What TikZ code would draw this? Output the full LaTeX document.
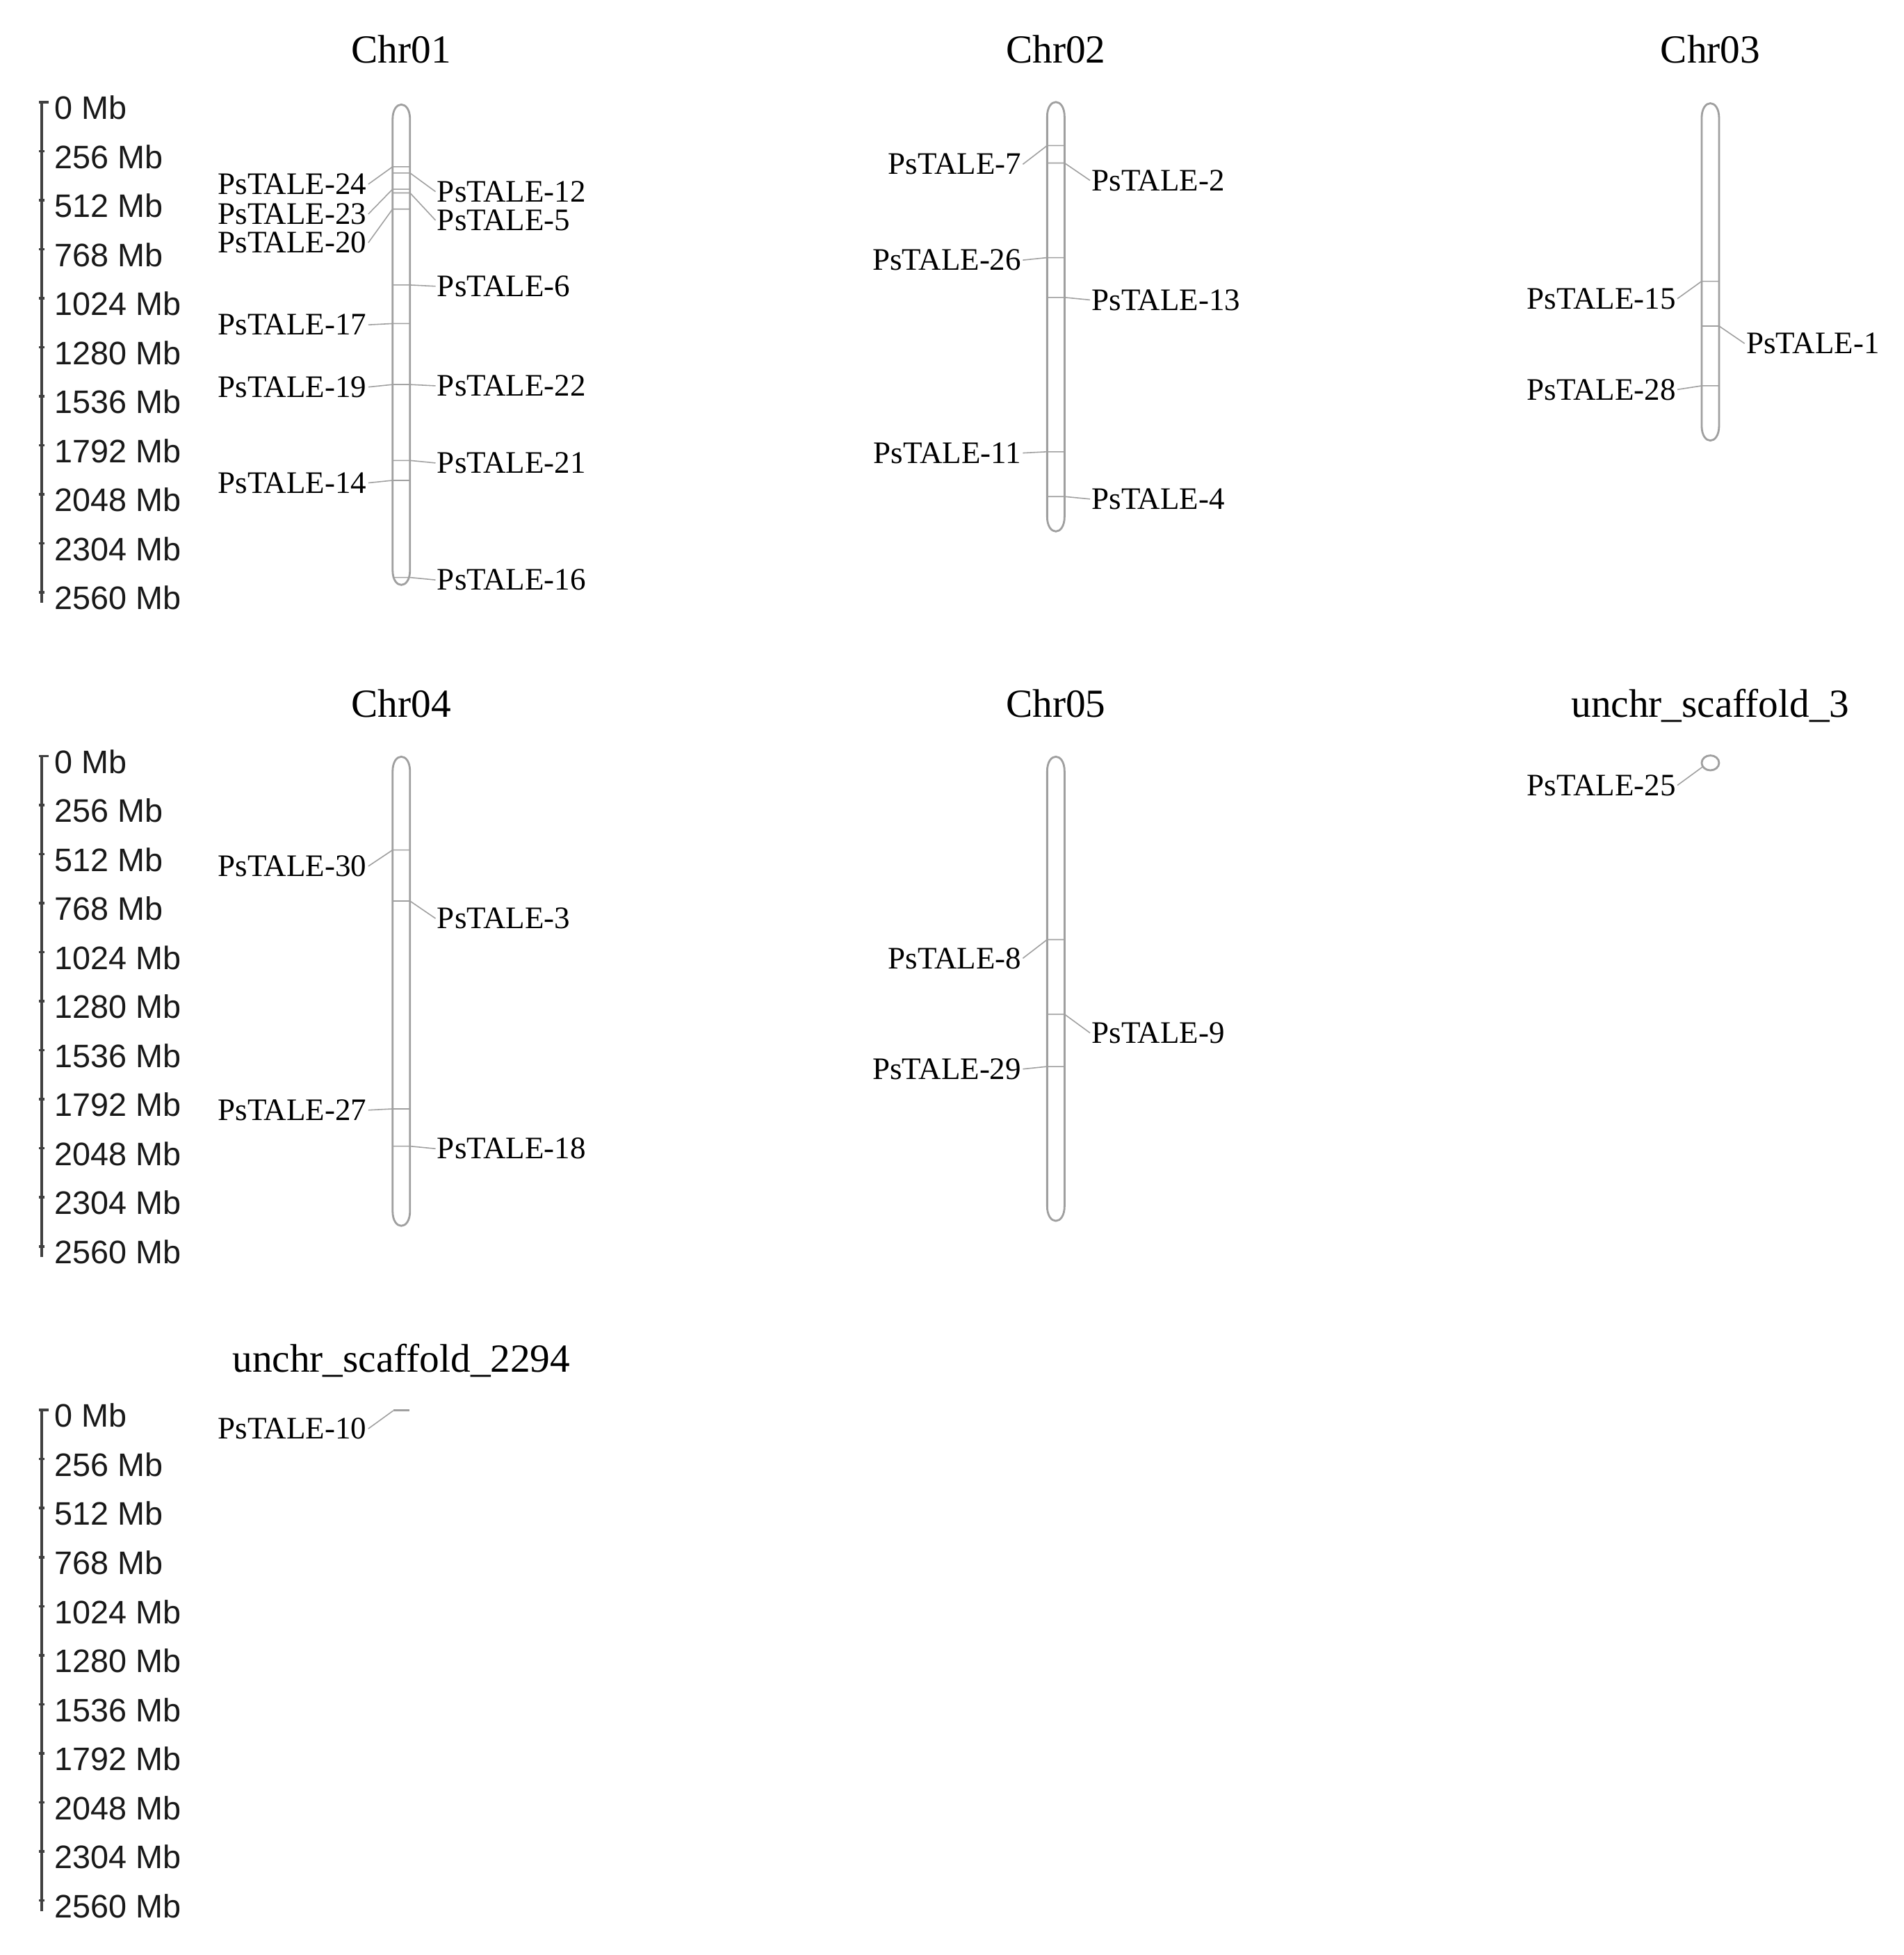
\documentclass[tikz,border=0pt]{standalone}
\usepackage{fontspec}
\setmainfont{Liberation Serif}
\newfontfamily\arialf{Liberation Sans}
\newcommand{\drawchrom}[3]{%
  \draw[chrom] ({#1-7},{#2+13}) .. controls ({#1-7},{#2-3}) and ({#1+7},{#2-3}) .. ({#1+7},{#2+13})
     -- ({#1+7},{#3-13}) .. controls ({#1+7},{#3+3}) and ({#1-7},{#3+3}) .. ({#1-7},{#3-13}) -- cycle;}
\newcommand{\lgene}[4]{%
  \node[lbl, anchor=east] (g#1) at ({#2-26.5},#3) {PsTALE-#1};
  \coordinate (g#1a) at ({#2-7},#4);
  \coordinate (g#1b) at ({#2+7},#4);
  \draw[conn] (g#1.east) -- (g#1a) -- (g#1b);}
\newcommand{\rgene}[4]{%
  \node[lbl, anchor=west] (g#1) at ({#2+27.5},#3) {PsTALE-#1};
  \coordinate (g#1a) at ({#2-7},#4);
  \coordinate (g#1b) at ({#2+7},#4);
  \draw[conn] (g#1a) -- (g#1b) -- (g#1.west);}
\begin{document}
\begin{tikzpicture}[x=0.0179cm, y=-0.0179cm,
  lbl/.style={font=\fontsize{12.8}{14}\selectfont, inner sep=0.5pt, text=black},
  ttl/.style={font=\fontsize{16.3}{18}\selectfont, inner sep=0pt, text=black},
  scl/.style={font=\arialf\fontsize{13.3}{15}\selectfont, inner sep=0pt, text=black!90},
  conn/.style={draw=gray!75, line width=0.45pt},
  chrom/.style={draw=gray!75, line width=0.8pt},
  sbar/.style={draw=black!75, line width=1pt}]
\useasboundingbox (0,0) rectangle (1529.6,1570.9);

% scale bars
\foreach \r/\yo in {A/86.5, B/612, C/1137.5} {
  \draw[sbar] (39,{\yo-4.5}) -- (33.5,{\yo-4.5}) -- (33.5,{\yo+394+4});
  \foreach \k/\lab in {0/0,1/256,2/512,3/768,4/1024,5/1280,6/1536,7/1792,8/2048,9/2304,10/2560} {
    \node[scl, anchor=west] (s\r\k) at (43.5,{\yo+\k*39.4}) {\lab\ Mb};
    \draw[sbar] (31.5,{\yo+\k*39.4-4.5}) -- (36,{\yo+\k*39.4-4.5});
  }
}

% titles
\node[ttl, anchor=base] (t1) at (322.5,50.6) {Chr01};
\node[ttl, anchor=base] (t2) at (848.5,50.6) {Chr02};
\node[ttl, anchor=base] (t3) at (1374.5,50.6) {Chr03};
\node[ttl, anchor=base] (t4) at (322.5,576.5) {Chr04};
\node[ttl, anchor=base] (t5) at (848.5,576.5) {Chr05};
\node[ttl, anchor=base] (t6) at (1374.5,576.5) {unchr\_scaffold\_3};
\node[ttl, anchor=base] (t7) at (322.5,1102.5) {unchr\_scaffold\_2294};

% chromosomes
\drawchrom{322.5}{83}{471}
\drawchrom{848.5}{81}{428}
\drawchrom{1374.5}{82}{355}
\drawchrom{322.5}{607}{986}
\drawchrom{848.5}{607}{982}
\draw[chrom] (1374.5,613) ellipse [x radius=0.125cm, y radius=0.107cm];
\draw[chrom] (316,1133) -- (329,1133);

% Chr01
\lgene{24}{322.5}{148}{134}
\rgene{12}{322.5}{154}{139}
\lgene{23}{322.5}{172}{152}
\rgene{5}{322.5}{177}{155}
\lgene{20}{322.5}{195}{168}
\rgene{6}{322.5}{230}{229}
\lgene{17}{322.5}{261}{260}
\lgene{19}{322.5}{311}{309}
\rgene{22}{322.5}{310}{309}
\rgene{21}{322.5}{372}{370}
\lgene{14}{322.5}{388}{386}
\rgene{16}{322.5}{466}{464}

% Chr02
\lgene{7}{848.5}{132}{117}
\rgene{2}{848.5}{145}{131}
\lgene{26}{848.5}{209}{207}
\rgene{13}{848.5}{241}{239}
\lgene{11}{848.5}{364}{363}
\rgene{4}{848.5}{401}{399}

% Chr03
\lgene{15}{1374.5}{240}{226}
\rgene{1}{1374.5}{276}{262}
\lgene{28}{1374.5}{313}{310}

% Chr04
\lgene{30}{322.5}{696}{683}
\rgene{3}{322.5}{738}{724}
\lgene{27}{322.5}{892}{891}
\rgene{18}{322.5}{923}{921}

% Chr05
\lgene{8}{848.5}{770}{755}
\rgene{9}{848.5}{830}{815}
\lgene{29}{848.5}{859}{857}

% scaffolds
\node[lbl, anchor=east] (g25) at (1348,631) {PsTALE-25};
\coordinate (g25a) at (1368.5,616);
\draw[conn] (g25.east) -- (g25a);
\node[lbl, anchor=east] (g10) at (296,1148) {PsTALE-10};
\coordinate (g10a) at (316,1133.5);
\draw[conn] (g10.east) -- (g10a);
\end{tikzpicture}
\end{document}
